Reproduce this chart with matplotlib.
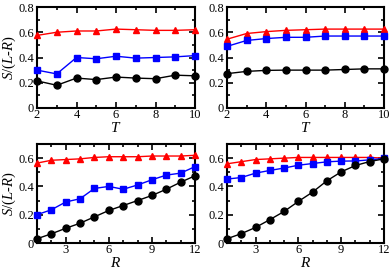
import matplotlib
matplotlib.use("Agg")
import matplotlib.pyplot as plt
from matplotlib.ticker import MultipleLocator, FixedLocator

plt.rcParams['font.family'] = ['Liberation Serif', 'DejaVu Serif']
plt.rcParams['mathtext.fontset'] = 'custom'
plt.rcParams['mathtext.it'] = 'Liberation Serif:italic'
plt.rcParams['mathtext.rm'] = 'Liberation Serif'

T = [2, 3, 4, 5, 6, 7, 8, 9, 10]
R = [1, 2, 3, 4, 5, 6, 7, 8, 9, 10, 11, 12]

tl_red = [0.575, 0.60, 0.61, 0.61, 0.625, 0.62, 0.615, 0.615, 0.62]
tl_blue = [0.30, 0.27, 0.40, 0.39, 0.41, 0.395, 0.40, 0.405, 0.415]
tl_black = [0.215, 0.18, 0.237, 0.225, 0.245, 0.237, 0.232, 0.26, 0.255]

tr_red = [0.545, 0.59, 0.605, 0.615, 0.62, 0.625, 0.625, 0.625, 0.625]
tr_blue = [0.488, 0.535, 0.55, 0.56, 0.56, 0.57, 0.57, 0.57, 0.57]
tr_black = [0.272, 0.29, 0.298, 0.30, 0.30, 0.30, 0.305, 0.31, 0.31]

bl_red = [0.565, 0.585, 0.59, 0.595, 0.605, 0.61, 0.61, 0.61, 0.615, 0.615, 0.615, 0.62]
bl_blue = [0.20, 0.235, 0.29, 0.313, 0.386, 0.40, 0.38, 0.41, 0.447, 0.48, 0.494, 0.54]
bl_black = [0.03, 0.065, 0.104, 0.14, 0.185, 0.23, 0.265, 0.30, 0.336, 0.38, 0.43, 0.475]

br_red = [0.56, 0.575, 0.59, 0.595, 0.60, 0.605, 0.605, 0.605, 0.605, 0.605, 0.605, 0.60]
br_blue = [0.452, 0.463, 0.494, 0.513, 0.53, 0.55, 0.562, 0.574, 0.579, 0.58, 0.588, 0.598]
br_black = [0.03, 0.066, 0.11, 0.165, 0.223, 0.294, 0.36, 0.44, 0.503, 0.548, 0.576, 0.595]

W, H = 390, 273
fig = plt.figure(figsize=(W / 100, H / 100), dpi=100)

def px_axes(x0, x1, y0, y1):
    return fig.add_axes([x0 / W, (H - y1) / H, (x1 - x0) / W, (y1 - y0) / H])

ax_tl = px_axes(37, 195, 7, 108)
ax_tr = px_axes(227, 384, 7, 108)
ax_bl = px_axes(37, 195, 144, 243)
ax_br = px_axes(227, 384, 144, 243)

def draw(ax, x, red, blue, black):
    ax.plot(x, red, color='#ff0000', marker='^', markersize=5, lw=1, clip_on=False, zorder=3)
    ax.plot(x, blue, color='#0000ff', marker='s', markersize=4.5, lw=1, clip_on=False, zorder=3)
    ax.plot(x, black, color='black', marker='o', markersize=5, lw=1, clip_on=False, zorder=3)

def style(ax):
    for s in ax.spines.values():
        s.set_linewidth(1.5)
    ax.tick_params(which='both', direction='in', top=True, right=True, labelsize=9,
                   width=1.2)
    ax.tick_params(axis='x', pad=1)
    ax.tick_params(axis='y', pad=2)
    ax.tick_params(which='major', length=4)
    ax.tick_params(which='minor', length=2.5)

draw(ax_tl, T, tl_red, tl_blue, tl_black)
draw(ax_tr, T, tr_red, tr_blue, tr_black)
draw(ax_bl, R, bl_red, bl_blue, bl_black)
draw(ax_br, R, br_red, br_blue, br_black)

for ax in (ax_tl, ax_tr):
    ax.set_xlim(2, 10)
    ax.set_ylim(0, 0.8)
    ax.xaxis.set_major_locator(MultipleLocator(2))
    ax.xaxis.set_minor_locator(MultipleLocator(1))
    ax.set_yticks([0, 0.2, 0.4, 0.6, 0.8])
    ax.set_yticklabels(['0', '0.2', '0.4', '0.6', '0.8'])
    ax.yaxis.set_minor_locator(MultipleLocator(0.1))
    ax.set_xlabel('$T$', fontsize=11, labelpad=0)
    style(ax)

for ax in (ax_bl, ax_br):
    ax.set_xlim(1, 12)
    ax.set_ylim(0, 0.7)
    ax.xaxis.set_major_locator(FixedLocator([3, 6, 9, 12]))
    ax.xaxis.set_minor_locator(MultipleLocator(1))
    ax.set_yticks([0, 0.2, 0.4, 0.6])
    ax.set_yticklabels(['0', '0.2', '0.4', '0.6'])
    ax.yaxis.set_minor_locator(MultipleLocator(0.1))
    ax.set_xlabel('$R$', fontsize=11, labelpad=0)
    style(ax)

ax_tl.set_ylabel('$S/(L$-$R)$', fontsize=10.5, labelpad=0)
ax_bl.set_ylabel('$S/(L$-$R)$', fontsize=10.5, labelpad=0)

fig.savefig('out.png', dpi=100)
